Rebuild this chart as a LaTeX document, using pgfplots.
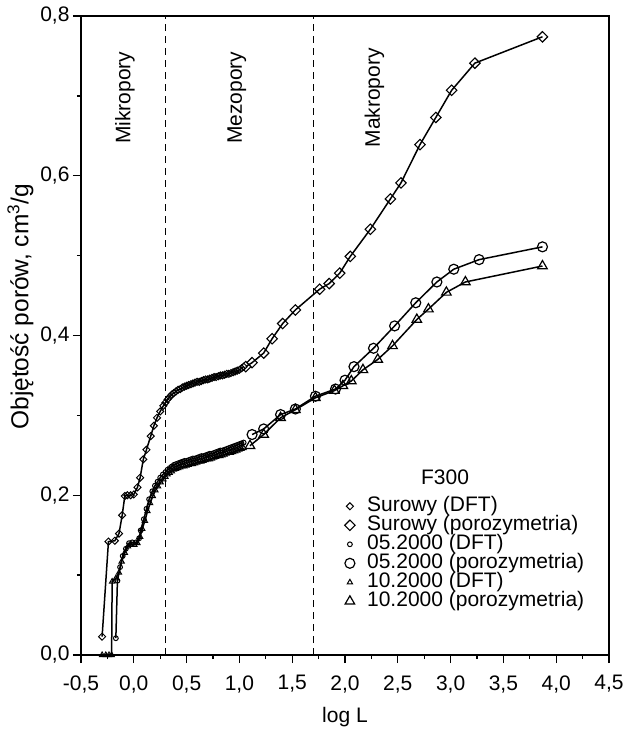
\documentclass[border=0pt]{standalone}
\usepackage{pgfplots}
\usepackage{pgfplotstable}
\pgfplotsset{compat=1.18}
\usepackage{fontspec}
\setmainfont{Liberation Sans}
\newcommand{\bigf}{\fontsize{21}{24}\selectfont}

\pgfplotstableread{
x y
-0.30 0.023
-0.24 0.142
-0.18 0.143
-0.14 0.152
-0.11 0.175
-0.085 0.199
-0.06 0.200
-0.03 0.200
0.00 0.201
0.035 0.210
0.06 0.222
0.09 0.245
0.12 0.257
0.16 0.274
0.19 0.287
0.22 0.297
0.25 0.305
0.28 0.312
0.30 0.316
0.32 0.320
0.34 0.323
0.36 0.326
0.38 0.328
0.40 0.330
0.42 0.332
0.44 0.333
0.46 0.335
0.48 0.336
0.50 0.337
0.52 0.338
0.54 0.339
0.56 0.340
0.58 0.341
0.60 0.342
0.62 0.342
0.64 0.343
0.66 0.344
0.68 0.345
0.70 0.345
0.72 0.346
0.74 0.347
0.76 0.348
0.78 0.348
0.80 0.349
0.82 0.350
0.84 0.350
0.86 0.351
0.88 0.352
0.90 0.352
0.92 0.353
0.94 0.354
0.96 0.355
0.98 0.356
1.00 0.357
1.02 0.359
1.04 0.361
}\SurDFT

\pgfplotstableread{
x y
1.06 0.361
1.12 0.366
1.23 0.378
1.31 0.396
1.41 0.415
1.53 0.432
1.76 0.458
1.85 0.465
1.95 0.478
2.05 0.499
2.24 0.533
2.43 0.571
2.53 0.591
2.71 0.639
2.86 0.673
3.01 0.707
3.23 0.741
3.87 0.774
}\SurPor

\pgfplotstableread{
x y
-0.17 0.021
-0.155 0.093
-0.13 0.110
-0.105 0.124
-0.075 0.133
-0.045 0.140
-0.015 0.141
0.02 0.141
0.05 0.146
0.065 0.156
0.095 0.170
0.12 0.183
0.145 0.195
0.175 0.205
0.20 0.212
0.225 0.217
0.25 0.222
0.275 0.226
0.30 0.229
0.32 0.232
0.34 0.234
0.36 0.236
0.38 0.238
0.40 0.239
0.42 0.240
0.44 0.241
0.46 0.242
0.48 0.243
0.50 0.243
0.52 0.244
0.54 0.245
0.56 0.246
0.58 0.246
0.60 0.247
0.62 0.248
0.64 0.249
0.66 0.249
0.68 0.250
0.70 0.251
0.72 0.252
0.74 0.252
0.76 0.253
0.78 0.254
0.80 0.255
0.82 0.256
0.84 0.256
0.86 0.257
0.88 0.258
0.90 0.259
0.92 0.260
0.94 0.261
0.96 0.262
0.98 0.263
1.00 0.264
1.02 0.265
1.04 0.266
}\MayDFT

\pgfplotstableread{
x y
1.12 0.276
1.23 0.283
1.39 0.301
1.53 0.308
1.72 0.324
1.91 0.333
2.00 0.344
2.085 0.361
2.27 0.384
2.47 0.412
2.67 0.441
2.87 0.467
3.03 0.483
3.27 0.495
3.87 0.511
}\MayPor

\pgfplotstableread{
x y
-0.30 0.000
-0.265 0.000
-0.235 0.000
-0.21 0.000
-0.205 0.092
-0.17 0.096
-0.14 0.103
-0.115 0.117
-0.085 0.128
-0.055 0.136
-0.025 0.138
0.005 0.138
0.035 0.140
0.06 0.148
0.08 0.158
0.105 0.168
0.13 0.180
0.155 0.190
0.18 0.199
0.205 0.206
0.23 0.211
0.255 0.216
0.28 0.220
0.30 0.223
0.32 0.226
0.34 0.228
0.36 0.230
0.38 0.232
0.40 0.233
0.42 0.234
0.44 0.235
0.46 0.236
0.48 0.236
0.50 0.237
0.52 0.238
0.54 0.239
0.56 0.239
0.58 0.240
0.60 0.241
0.62 0.242
0.64 0.242
0.66 0.243
0.68 0.244
0.70 0.245
0.72 0.245
0.74 0.246
0.76 0.247
0.78 0.248
0.80 0.249
0.82 0.249
0.84 0.250
0.86 0.251
0.88 0.252
0.90 0.253
0.92 0.253
0.94 0.254
0.96 0.255
0.98 0.256
1.00 0.257
1.02 0.258
1.04 0.259
}\OctDFT

\pgfplotstableread{
x y
1.10 0.262
1.23 0.276
1.39 0.297
1.53 0.307
1.72 0.322
1.90 0.331
1.98 0.337
2.06 0.343
2.17 0.357
2.31 0.370
2.45 0.387
2.68 0.420
2.79 0.433
2.96 0.454
3.14 0.467
3.87 0.487
}\OctPor

\pgfplotsset{
  sdft/.style={mark=square, mark size=2.5pt, mark options={rotate=45, solid, fill=white, line width=1pt}},
  spor/.style={mark=square, mark size=3.7pt, mark options={rotate=45, solid, fill=white, line width=1.1pt}},
  odft/.style={mark=o, mark size=2.4pt, mark options={solid, fill=white, line width=1pt}},
  opor/.style={mark=o, mark size=5pt, mark options={solid, fill=white, line width=1.2pt}},
  tdft/.style={mark=triangle, mark size=3pt, mark options={solid, fill=white, line width=1pt}},
  tpor/.style={mark=triangle, mark size=5.5pt, mark options={solid, fill=white, line width=1.2pt}},
}

\begin{document}
\begin{tikzpicture}
\begin{axis}[
  at={(0pt,0pt)}, anchor=south west,
  scale only axis, width=528pt, height=639pt,
  xmin=-0.5, xmax=4.5, ymin=0, ymax=0.8,
  xtick={-0.5,0,0.5,1,1.5,2,2.5,3,3.5,4,4.5},
  ytick={0,0.2,0.4,0.6,0.8},
  minor x tick num=1, minor y tick num=1,
  tick align=outside, xtick pos=left, ytick pos=left,
  major tick length=8pt, minor tick length=4pt,
  axis line style={line width=1.4pt},
  every tick/.style={line width=1.3pt, black},
  tick label style={font=\bigf},
  label style={font=\bigf},
  xticklabel shift=9pt,
  xlabel style={yshift=-8pt},
  ylabel style={at={(ticklabel cs:0.545)}, font=\fontsize{24.5}{27}\selectfont},
  xticklabel style={/pgf/number format/.cd, fixed, fixed zerofill, precision=1, use comma, assume math mode=true},
  yticklabel style={/pgf/number format/.cd, fixed, fixed zerofill, precision=1, use comma, assume math mode=true},
  xlabel={log L},
  ylabel={Objętość porów, cm\textsuperscript{3}/g},
  clip=false,
  legend style={draw=none, fill=none, font=\bigf, at={(axis cs:1.995,0.198)}, anchor=north west,
    inner sep=0pt, row sep=0.5pt, column sep=2pt,
    nodes={inner sep=0pt, text height=14pt, text depth=4.5pt, anchor=west}},
  legend cell align=left,
]
\addplot[black, line width=1pt, dash pattern=on 7pt off 5pt, forget plot] coordinates {(0.3,0) (0.3,0.8)};
\addplot[black, line width=1pt, dash pattern=on 7pt off 5pt, forget plot] coordinates {(1.7,0) (1.7,0.8)};

\addplot[black, line width=1.5pt, sdft, forget plot] table {\SurDFT};
\addplot[black, line width=1.5pt, spor, forget plot] table {\SurPor};
\addplot[black, line width=1.5pt, tdft, forget plot] table {\OctDFT};
\addplot[black, line width=1.5pt, odft, forget plot] table {\MayDFT};
\addplot[black, line width=1.5pt, tpor, forget plot] table {\OctPor};
\addplot[black, line width=1.5pt, opor, forget plot] table {\MayPor};

\addlegendimage{only marks, black, sdft}
\addlegendentry{\hspace{10pt}Surowy (DFT)}
\addlegendimage{only marks, black, spor}
\addlegendentry{\hspace{10pt}Surowy (porozymetria)}
\addlegendimage{only marks, black, odft}
\addlegendentry{\hspace{10pt}05.2000 (DFT)}
\addlegendimage{only marks, black, opor}
\addlegendentry{\hspace{10pt}05.2000 (porozymetria)}
\addlegendimage{only marks, black, tdft}
\addlegendentry{\hspace{10pt}10.2000 (DFT)}
\addlegendimage{only marks, black, tpor}
\addlegendentry{\hspace{10pt}10.2000 (porozymetria)}

\node[font=\bigf] at (axis cs:2.947,0.222) {F300};
\node[rotate=90, font=\bigf] at (axis cs:-0.085,0.6975) {Mikropory};
\node[rotate=90, font=\bigf] at (axis cs:0.975,0.6975) {Mezopory};
\node[rotate=90, font=\bigf] at (axis cs:2.28,0.6975) {Makropory};
\end{axis}
\pgfresetboundingbox
\useasboundingbox (-81pt,-77pt) rectangle (545pt,655pt);
\end{tikzpicture}
\end{document}
